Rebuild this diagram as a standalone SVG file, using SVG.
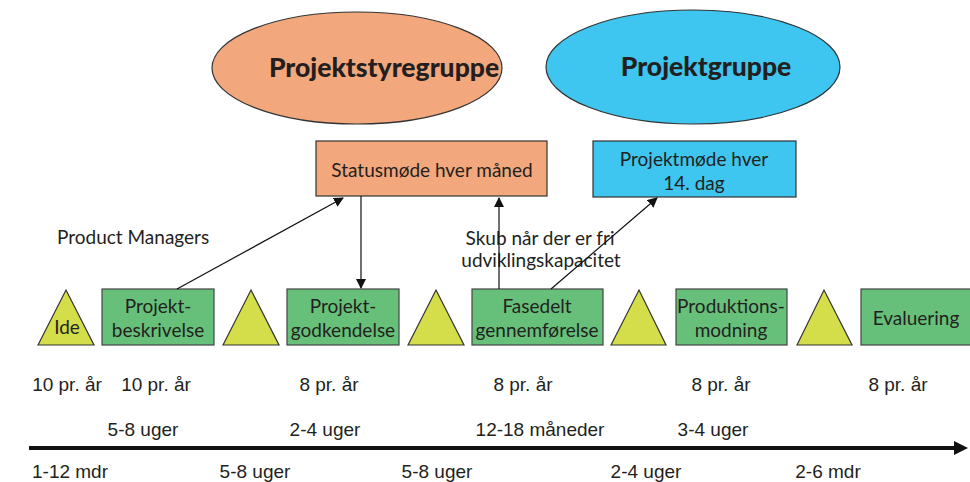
<svg xmlns="http://www.w3.org/2000/svg" width="970" height="482" viewBox="0 0 970 482">
<defs>
<marker id="ah" markerWidth="10" markerHeight="10" refX="9" refY="5" orient="auto" markerUnits="userSpaceOnUse"><path d="M0,0 L10,5 L0,10 z" fill="#111"/></marker>
<marker id="axh" markerWidth="14" markerHeight="14" refX="2" refY="7" orient="auto" markerUnits="userSpaceOnUse"><path d="M0,0 L14,7 L0,14 z" fill="#111"/></marker>
</defs>
<style>
.av{font-family:Lato,"Open Sans","Liberation Sans",sans-serif;fill:#231f20}
.hv{font-family:"Liberation Sans",Arial,sans-serif;font-size:19px;fill:#231f20}
.big{font-size:26.5px;font-weight:900}
.bx{font-size:19px}
.grn{fill:#66c07a;stroke:#444;stroke-width:1.2}
.tri{fill:#d4de4a;stroke:#333;stroke-width:1.2}
.con{stroke:#111;stroke-width:1.2;fill:none}
</style>
<rect width="970" height="482" fill="#fff"/>
<g id="projektstyregruppe">
<ellipse cx="357" cy="68" rx="145" ry="56" fill="#f2a87c" stroke="#333" stroke-width="1.2"/>
<text class="av big" x="384" y="77" text-anchor="middle">Projektstyregruppe</text>
</g>
<g id="projektgruppe">
<ellipse cx="693" cy="67" rx="147" ry="57" fill="#3ec5f0" stroke="#333" stroke-width="1.2"/>
<text class="av big" x="706" y="76" text-anchor="middle">Projektgruppe</text>
</g>
<g id="statusmode">
<rect x="316" y="141" width="231" height="55" fill="#f2a87c" stroke="#333" stroke-width="1.2"/>
<text class="av bx" x="432" y="177" text-anchor="middle">Statusmøde hver måned</text>
</g>
<g id="projektmode">
<rect x="593" y="141" width="203" height="56" fill="#3ec5f0" stroke="#333" stroke-width="1.2"/>
<text class="av bx" x="694" y="166" text-anchor="middle">Projektmøde hver</text>
<text class="av bx" x="694" y="190" text-anchor="middle">14. dag</text>
</g>
<g id="product-managers"><text class="av bx" x="57" y="244">Product Managers</text></g>
<g id="skub"><text class="av bx" x="540" y="245" text-anchor="middle">Skub når der er fri</text><text class="av bx" x="541" y="267" text-anchor="middle">udviklingskapacitet</text></g>
<g id="tri-ide"><polygon class="tri" points="38,345 66,290 94,345"/><text class="av bx" x="67" y="334" text-anchor="middle">Ide</text></g>
<g id="projektbeskrivelse"><rect class="grn" x="102" y="289" width="112" height="56"/><text class="av bx" x="158" y="313" text-anchor="middle">Projekt-</text><text class="av bx" x="158" y="337" text-anchor="middle">beskrivelse</text></g>
<g id="tri-2"><polygon class="tri" points="223,345 251,290 279,345"/></g>
<g id="projektgodkendelse"><rect class="grn" x="287" y="289" width="112" height="56"/><text class="av bx" x="343" y="313" text-anchor="middle">Projekt-</text><text class="av bx" x="343" y="337" text-anchor="middle">godkendelse</text></g>
<g id="tri-3"><polygon class="tri" points="408,345 436,290 464,345"/></g>
<g id="fasedelt"><rect class="grn" x="472" y="289" width="131" height="56"/><text class="av bx" x="537" y="313" text-anchor="middle">Fasedelt</text><text class="av bx" x="537" y="337" text-anchor="middle">gennemførelse</text></g>
<g id="tri-4"><polygon class="tri" points="611,345 639,290 666,345"/></g>
<g id="produktionsmodning"><rect class="grn" x="676" y="289" width="111" height="56"/><text class="av bx" x="731" y="313" text-anchor="middle">Produktions-</text><text class="av bx" x="731" y="337" text-anchor="middle">modning</text></g>
<g id="tri-5"><polygon class="tri" points="797,345 824,290 852,345"/></g>
<g id="evaluering"><rect class="grn" x="861" y="289" width="115" height="56"/><text class="av bx" x="916" y="325" text-anchor="middle">Evaluering</text></g>
<g id="connectors">
<line class="con" x1="177" y1="289" x2="343" y2="198" marker-end="url(#ah)"/>
<line class="con" x1="361" y1="196" x2="361" y2="288" marker-end="url(#ah)"/>
<line class="con" x1="499" y1="289" x2="499" y2="198" marker-end="url(#ah)"/>
<line class="con" x1="551" y1="289" x2="657" y2="198" marker-end="url(#ah)"/>
<line x1="29" y1="448" x2="956" y2="448" stroke="#111" stroke-width="4" marker-end="url(#axh)"/>
</g>
<g id="labels">
<text class="hv" x="67" y="391" text-anchor="middle">10 pr. år</text>
<text class="hv" x="156" y="391" text-anchor="middle">10 pr. år</text>
<text class="hv" x="329" y="391" text-anchor="middle">8 pr. år</text>
<text class="hv" x="523" y="391" text-anchor="middle">8 pr. år</text>
<text class="hv" x="721" y="391" text-anchor="middle">8 pr. år</text>
<text class="hv" x="898" y="391" text-anchor="middle">8 pr. år</text>
<text class="hv" x="143" y="436" text-anchor="middle">5-8 uger</text>
<text class="hv" x="325" y="436" text-anchor="middle">2-4 uger</text>
<text class="hv" x="540" y="436" text-anchor="middle">12-18 måneder</text>
<text class="hv" x="713" y="436" text-anchor="middle">3-4 uger</text>
<text class="hv" x="70" y="478" text-anchor="middle">1-12 mdr</text>
<text class="hv" x="255" y="478" text-anchor="middle">5-8 uger</text>
<text class="hv" x="437" y="478" text-anchor="middle">5-8 uger</text>
<text class="hv" x="646" y="478" text-anchor="middle">2-4 uger</text>
<text class="hv" x="828" y="478" text-anchor="middle">2-6 mdr</text>
</g>
</svg>
